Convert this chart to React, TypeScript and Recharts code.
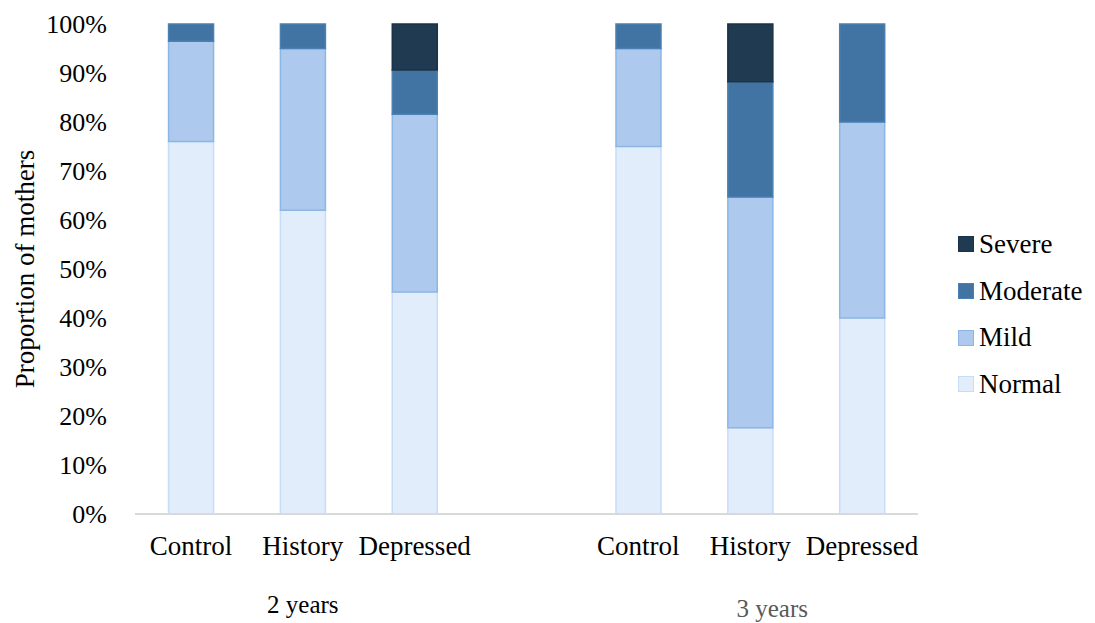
import React from 'react'
import { BarChart, Bar, XAxis, YAxis, Label } from 'recharts'

const categories = ['Control', 'History', 'Depressed', '', 'Control', 'History', 'Depressed']
const groups = ['2 years', '2 years', '2 years', '', '3 years', '3 years', '3 years']

const normal = [76, 62, 45.3, null, 75, 17.6, 40]
const mild = [20.5, 33, 36.3, null, 20, 47.1, 40]
const moderate = [3.5, 5, 9, null, 5, 23.5, 20]
const severe = [0, 0, 9.4, null, 0, 11.8, 0]

const yTicks = [0, 10, 20, 30, 40, 50, 60, 70, 80, 90, 100]

const data = categories.map((name, i) => ({
  name,
  group: groups[i],
  Normal: normal[i],
  Mild: mild[i],
  Moderate: moderate[i],
  Severe: severe[i],
}))

const series = [
  { key: 'Normal', fill: '#e2edfc', stroke: '#c8dcf8' },
  { key: 'Mild', fill: '#adc9ed', stroke: '#8db6e4' },
  { key: 'Moderate', fill: '#4174a2', stroke: '#4a80b2' },
  { key: 'Severe', fill: '#203a52', stroke: '#1b3247' },
]

const FONT = '"Liberation Serif", "Times New Roman", serif'

function CategoryTick(props: any) {
  const { x, y, payload, index } = props
  const row = data[index]
  const showGroup = index === 1 || index === 5
  return (
    <g>
      <text x={x} y={y} dy={18} textAnchor="middle" fontSize={27} fontFamily={FONT} fill="#000">
        {payload.value}
      </text>
      {showGroup && (
        <text
          x={index === 5 ? x + 22 : x}
          y={index === 5 ? y + 80 : y + 76}
          textAnchor="middle"
          fontSize={25}
          fontFamily={FONT}
          fill={index === 5 ? '#595959' : '#000'}
        >
          {row.group}
        </text>
      )}
    </g>
  )
}

function LegendBox() {
  const items = [...series].reverse()
  return (
    <div style={{ position: 'absolute', left: 958, top: 221, fontFamily: FONT, fontSize: 27 }}>
      {items.map((s) => (
        <div key={s.key} style={{ display: 'flex', alignItems: 'center', height: 46.7 }}>
          <span
            style={{
              display: 'inline-block',
              width: 14,
              height: 14,
              background: s.fill,
              border: `1.5px solid ${s.stroke}`,
              marginRight: 5,
            }}
          />
          <span style={{ color: '#000' }}>{s.key}</span>
        </div>
      ))}
    </div>
  )
}

export default function App() {
  return (
    <div style={{ position: 'absolute', left: 0, top: 0, width: 1095, height: 623, background: '#fff' }}>
      <BarChart
        width={1095}
        height={623}
        data={data}
        margin={{ top: 24, right: 177, bottom: 79, left: 0 }}
        barCategoryGap="30%"
      >
        <XAxis
          dataKey="name"
          interval={0}
          tickLine={false}
          axisLine={{ stroke: '#d9d9d9', strokeWidth: 2 }}
          tickSize={0}
          tickMargin={23}
          tick={<CategoryTick />}
        />
        <YAxis
          width={135}
          domain={[0, 100]}
          ticks={yTicks}
          interval={0}
          tickFormatter={(v: number) => `${v}%`}
          axisLine={false}
          tickLine={false}
          tickSize={0}
          tickMargin={28}
          tick={{ fontSize: 26, fontFamily: FONT, fill: '#000' }}
        >
          <Label
            content={(p: any) => {
              const vb = p.viewBox
              const cx = 25
              const cy = vb.y + vb.height / 2
              return (
                <text
                  x={cx}
                  y={cy}
                  transform={`rotate(-90 ${cx} ${cy})`}
                  textAnchor="middle"
                  dominantBaseline="central"
                  fontSize={27}
                  fontFamily={FONT}
                  fill="#000"
                >
                  Proportion of mothers
                </text>
              )
            }}
          />
        </YAxis>
        {series.map((s) => (
          <Bar
            key={s.key}
            dataKey={s.key}
            stackId="a"
            fill={s.fill}
            stroke={s.stroke}
            strokeWidth={1.5}
            isAnimationActive={false}
          />
        ))}
      </BarChart>
      <LegendBox />
    </div>
  )
}
